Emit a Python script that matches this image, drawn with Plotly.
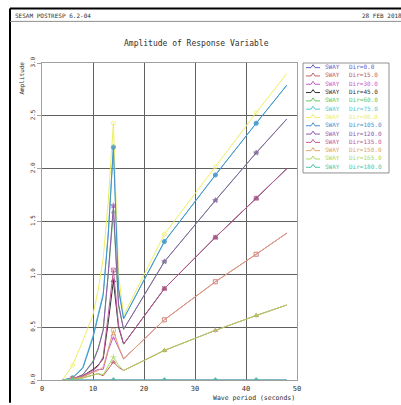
import plotly.graph_objects as go

periods = [4, 6, 8, 10, 11, 12, 13, 14, 15, 16, 24, 34, 42, 48]
marker_periods = [6, 14, 24, 34, 42]

directions = ["0.0", "15.0", "30.0", "45.0", "60.0", "75.0", "90.0",
              "105.0", "120.0", "135.0", "150.0", "165.0", "180.0"]

sway_0 = [0, 0, 0, 0, 0, 0, 0, 0, 0, 0, 0, 0, 0, 0]
sway_15 = [0, 0.0, 0.02, 0.05, 0.06, 0.04, 0.10, 0.17, 0.12, 0.09, 0.28, 0.47, 0.61, 0.71]
sway_30 = [0, 0.01, 0.03, 0.08, 0.10, 0.10, 0.28, 0.41, 0.30, 0.20, 0.57, 0.93, 1.19, 1.39]
sway_45 = [0, 0.01, 0.04, 0.10, 0.14, 0.20, 0.55, 0.94, 0.50, 0.34, 0.865, 1.35, 1.72, 2.00]
sway_60 = [0, 0.01, 0.05, 0.18, 0.30, 0.48, 1.00, 1.59, 0.70, 0.48, 1.12, 1.70, 2.15, 2.47]
sway_75 = [0, 0.02, 0.12, 0.42, 0.62, 0.82, 1.40, 2.21, 0.88, 0.58, 1.31, 1.94, 2.43, 2.79]
sway_90 = [0, 0.14, 0.37, 0.62, 0.85, 1.15, 1.70, 2.43, 1.00, 0.61, 1.38, 2.02, 2.53, 2.90]
sway_105 = [0, 0.02, 0.11, 0.40, 0.60, 0.80, 1.38, 2.20, 0.86, 0.58, 1.31, 1.94, 2.43, 2.79]
sway_120 = [0, 0.01, 0.05, 0.17, 0.29, 0.47, 1.02, 1.65, 0.72, 0.48, 1.12, 1.70, 2.15, 2.47]
sway_135 = [0, 0.01, 0.04, 0.09, 0.13, 0.22, 0.62, 1.04, 0.52, 0.34, 0.865, 1.35, 1.72, 2.00]
sway_150 = [0, 0.01, 0.03, 0.07, 0.09, 0.12, 0.30, 0.47, 0.32, 0.20, 0.57, 0.93, 1.19, 1.39]
sway_165 = [0, 0.0, 0.02, 0.05, 0.06, 0.05, 0.14, 0.22, 0.14, 0.09, 0.28, 0.47, 0.61, 0.71]
sway_180 = [0, 0, 0, 0, 0, 0, 0, 0, 0, 0, 0, 0, 0, 0]

series = [sway_0, sway_15, sway_30, sway_45, sway_60, sway_75, sway_90,
          sway_105, sway_120, sway_135, sway_150, sway_165, sway_180]

colors = ["#6060c8", "#c06060", "#c858c8", "#303030", "#60c860", "#50c8d0", "#eeee60",
          "#4890d0", "#9058b0", "#c05898", "#dca468", "#acd860", "#50c4a4"]
symbols = ["triangle-up", "triangle-up", "square-open", "triangle-up", "triangle-up",
           "circle", "circle-open", "circle", "star", "square-x-open", "square-open",
           "cross-thin-open", "diamond"]

fig = go.Figure()
for d, vals, c, s in zip(directions, series, colors, symbols):
    sizes = [4 if p in marker_periods else 0 for p in periods]
    fig.add_trace(go.Scatter(
        x=periods, y=vals, mode="lines+markers",
        name=f"SWAY   Dir={d}", showlegend=False,
        line=dict(color=c, width=1),
        marker=dict(color=c, symbol=s, size=sizes, line=dict(color=c, width=1)),
    ))

font_fam = "DejaVu Sans Mono, monospace"
W, H = 401, 405
L, R, T, B = 42, 297, 63, 383

def px(xp):
    return (xp - L) / (R - L)

def py(yp):
    return (B - yp) / (B - T)

shapes = [
    dict(type="line", xref="paper", yref="paper", x0=px(10), x1=px(402), y0=py(8), y1=py(8),
         line=dict(color="black", width=2)),
    dict(type="line", xref="paper", yref="paper", x0=px(10), x1=px(10), y0=py(8), y1=py(406),
         line=dict(color="black", width=2)),
    dict(type="line", xref="paper", yref="paper", x0=px(10), x1=px(402), y0=py(21), y1=py(21),
         line=dict(color="#909090", width=1)),
    dict(type="rect", xref="paper", yref="paper", x0=px(303), x1=px(389), y0=py(63), y1=py(174),
         line=dict(color="#909090", width=1), fillcolor="white", layer="above"),
]

annotations = [
    dict(text="SESAM POSTRESP 6.2-04", xref="paper", yref="paper", x=px(13), y=py(15),
         xanchor="left", yanchor="middle", showarrow=False,
         font=dict(family=font_fam, size=6, color="#303030")),
    dict(text="28 FEB 2018", xref="paper", yref="paper", x=px(360), y=py(15),
         xanchor="left", yanchor="middle", showarrow=False,
         font=dict(family=font_fam, size=6, color="#303030")),
    dict(text="Amplitude of Response Variable", xref="paper", yref="paper", x=px(196), y=py(43),
         xanchor="center", yanchor="middle", showarrow=False,
         font=dict(family=font_fam, size=8, color="#303030")),
    dict(text="Amplitude", xref="paper", yref="paper", x=px(22), y=py(60),
         xanchor="center", yanchor="top", showarrow=False, textangle=-90,
         font=dict(family=font_fam, size=6, color="#303030")),
    dict(text="Wave period (seconds)", xref="paper", yref="paper", x=1.0, y=py(401.5),
         xanchor="right", yanchor="middle", showarrow=False,
         font=dict(family=font_fam, size=6.5, color="#303030")),
]

# legend rows
row0, step = 66.7, 8.38
for i, (d, c) in enumerate(zip(directions, colors)):
    yy = row0 + i * step
    shapes.append(dict(type="path", xref="paper", yref="paper",
                       path=(f"M {px(306)},{py(yy + 1)} L {px(311)},{py(yy + 1)} L {px(313)},{py(yy - 2)} "
                             f"L {px(315)},{py(yy + 1)} L {px(320)},{py(yy + 1)}"),
                       line=dict(color=c, width=1), layer="above"))
    annotations.append(dict(text="SWAY", xref="paper", yref="paper", x=px(323), y=py(yy),
                            xanchor="left", yanchor="middle", showarrow=False,
                            font=dict(family=font_fam, size=6, color=c)))
    annotations.append(dict(text=f"Dir={d}", xref="paper", yref="paper", x=px(347), y=py(yy),
                            xanchor="left", yanchor="middle", showarrow=False,
                            font=dict(family=font_fam, size=6, color=c)))

fig.update_layout(
    width=W, height=H,
    margin=dict(l=L, r=W - R, t=T, b=H - B, pad=0),
    paper_bgcolor="white", plot_bgcolor="white",
    showlegend=False,
    shapes=shapes, annotations=annotations,
)
fig.update_xaxes(range=[0, 50], tickvals=[0, 10, 20, 30, 40, 50], ticktext=["0", "10", "20", "30", "40", "50"],
                 showgrid=True, gridcolor="#606060", gridwidth=1, zeroline=False,
                 showline=True, linecolor="#a0a0a0", mirror=True,
                 ticks="", ticklabelstandoff=2,
                 tickfont=dict(family=font_fam, size=7, color="#303030"))
fig.update_yaxes(range=[0, 3], tickvals=[0, 0.5, 1, 1.5, 2, 2.5, 3],
                 ticktext=["0.0", "0.5", "1.0", "1.5", "2.0", "2.5", "3.0"], tickangle=-90,
                 showgrid=True, gridcolor="#606060", gridwidth=1, zeroline=False,
                 showline=True, linecolor="#a0a0a0", mirror=True,
                 ticks="outside", ticklen=4, tickcolor="#a0a0a0",
                 tickfont=dict(family=font_fam, size=6, color="#303030"))

fig.write_html("out.html")
